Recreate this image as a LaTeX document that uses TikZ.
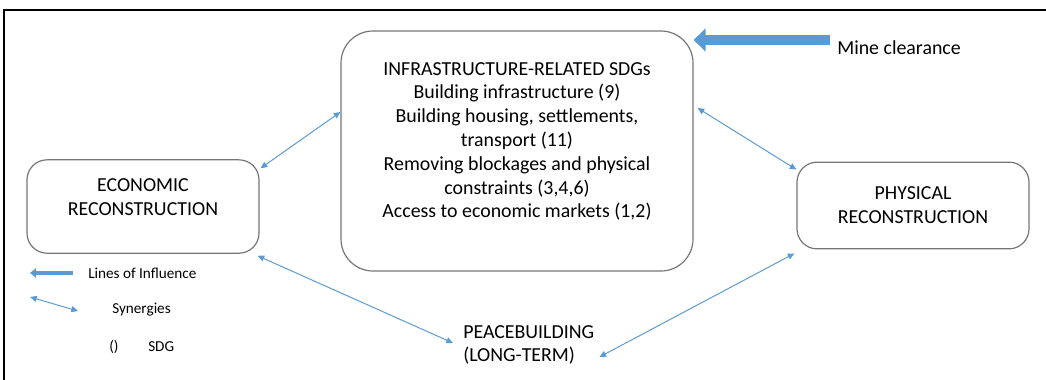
\documentclass[tikz,border=0pt]{standalone}
\usepackage{fontspec}
\setmainfont{Carlito}
\usetikzlibrary{arrows.meta}
\definecolor{offblue}{HTML}{5B9BD5}
\definecolor{boxgray}{HTML}{767676}
\begin{document}
\begin{tikzpicture}[x=0.75pt,y=-0.75pt,
 box/.style={draw=boxgray, line width=0.9pt, rounded corners=15pt, inner sep=0pt},
 txt/.style={font=\fontsize{14.9}{17.85}\selectfont, align=center, inner sep=0pt, text=black},
 legtxt/.style={font=\fontsize{11.4}{13}\selectfont, inner sep=0pt, anchor=west, text=black},
 syn/.style={draw=offblue, line width=0.75pt, {Triangle[length=5pt,width=4.5pt]}-{Triangle[length=5pt,width=4.5pt]}},
 infl/.style={draw=offblue, line width=7.5pt, -{Triangle[length=9pt,width=17pt]}},
 inflsmall/.style={draw=offblue, line width=3pt, -{Triangle[length=4.5pt,width=7pt]}},
]
\useasboundingbox (0,0) rectangle (1046,379);
\draw[line width=1.6pt] (4,385) -- (4,10) -- (1050,10);

% boxes
\node[box, rounded corners=24pt, minimum width=264pt, minimum height=180pt] (infra) at (517,151) {};
\node[txt] (infratext) at (517,141.5) {INFRASTRUCTURE-RELATED SDGs\\Building infrastructure (9)\\Building housing, settlements,\\transport (11)\\Removing blockages and physical\\constraints (3,4,6)\\Access to economic markets (1,2)};

\node[box, minimum width=174pt, minimum height=70pt] (eco) at (143,206.5) {};
\node[txt] (ecotext) at (143,197) {ECONOMIC\\RECONSTRUCTION};

\node[box, minimum width=174pt, minimum height=65pt] (phys) at (913,205.5) {};
\node[txt] (phystext) at (913,205) {PHYSICAL\\RECONSTRUCTION};

\node[txt, align=left, anchor=west] (peace) at (463,345) {PEACEBUILDING\\(LONG-TERM)};

\node[txt, anchor=west] (mine) at (837,48) {Mine clearance};
\coordinate (minetail) at (830,40);
\draw[infl] (minetail) -- (minetail -| infra.east);

% synergies
\draw[syn] ([shift={(1,9)}]eco.north east) -- ([shift={(0,-39)}]infra.west);
\draw[syn] ([shift={(4,-43)}]infra.east) -- ([shift={(0,8)}]phys.north west);
\draw[syn] ([shift={(-2,2)}]eco.south east) -- ([shift={(-10,-2)}]peace.west);
\draw[syn] ([shift={(5,12)}]peace.east) -- ([shift={(-2,4)}]phys.south west);

% legend
\node[legtxt] (leg1) at (88,273) {Lines of Influence};
\coordinate (l1a) at (73,273);
\coordinate (l1b) at (30,273);
\draw[inflsmall] (l1a) -- (l1b);
\node[legtxt] (leg2) at (112,310) {Synergies};
\coordinate (l2a) at (30,297);
\coordinate (l2b) at (78,311);
\draw[syn] (l2a) -- (l2b);
\node[legtxt] (leg3) at (109,347) {()};
\node[legtxt] (leg4) at (148,347) {SDG};
\end{tikzpicture}
\end{document}
